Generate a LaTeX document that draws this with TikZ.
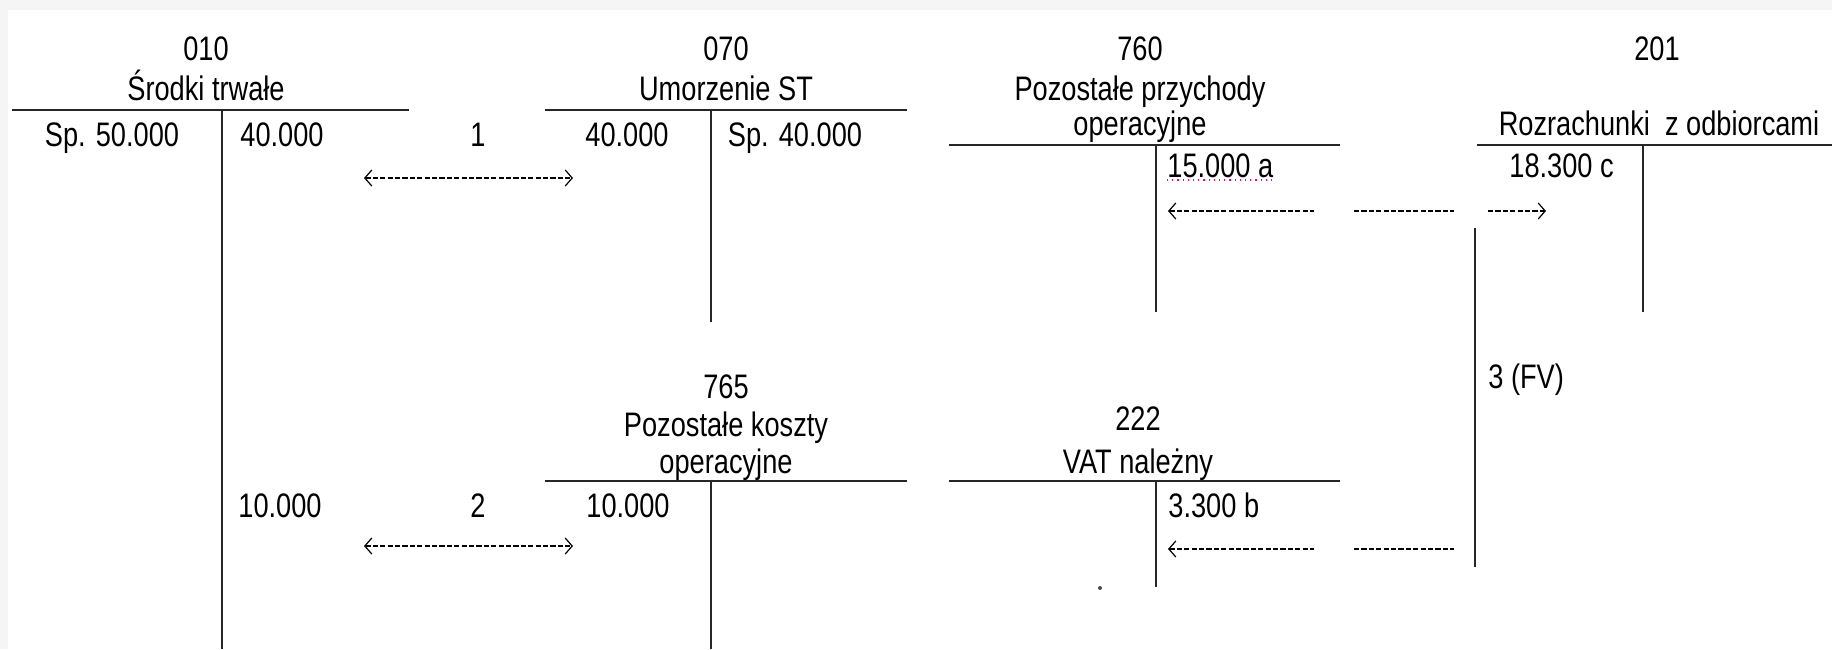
\documentclass[tikz,border=0pt]{standalone}
\usepackage{fontspec}
\setmainfont{Liberation Sans}[FakeStretch=0.8]
\usetikzlibrary{arrows.meta}

\begin{document}
\begin{tikzpicture}[x=0.5pt,y=-0.5pt]
	\tikzset{
		mylabel/.style={anchor=base, inner sep=0pt, font=\fontsize{17}{20}\selectfont},
		mylabelw/.style={mylabel, anchor=base west},
		myline/.style={draw=black!85, line width=1.3pt},
		mystem/.style={draw=black!85, line width=1pt},
		myarrow/.style={line width=0.85pt, dash pattern=on 2.6pt off 1.1pt},
		mytip/.tip={Straight Barb[length=3.5pt,width=8pt,line width=0.6pt]}
	}

	\fill[black!4] (0,0) rectangle (1832,649);
	\fill[white] (8,10) rectangle (1832,649);
	\useasboundingbox (0,0) rectangle (1832,649);

	% T-accounts: bar from \xa to \xb at \ya, stem at \xs down to \yb
	\foreach \xa/\xb/\ya/\xs/\yb in {12/409/110/222/649, 545/907/110/711/322, 949/1340/145/1156/312, 1477/1832/145/1643/312, 545/907/481/711/649, 949/1340/481/1156/587} {
		\draw[myline] (\xa,\ya) -- (\xb,\ya);
		\draw[mystem] (\xs,\ya) -- (\xs,\yb);
	}
	\draw[mystem] (1475,228) -- (1475,567);
	\fill[black!70] (1100,588) circle (1pt);

	% account headers
	\node[mylabel] (n010) at (206,60) {010};
	\node[mylabel] (t010) at (206,100) {Środki trwałe};
	\node[mylabel] (n070) at (726,60) {070};
	\node[mylabel] (t070) at (726,100) {Umorzenie ST};
	\node[mylabel] (n760) at (1140,60) {760};
	\node[mylabel] (t760a) at (1140,100) {Pozostałe przychody};
	\node[mylabel] (t760b) at (1140,135) {operacyjne};
	\node[mylabel] (n201) at (1657,60) {201};
	\node[mylabel] (t201) at (1659,135) {Rozrachunki\ \ z odbiorcami};
	\node[mylabel] (n765) at (726,398) {765};
	\node[mylabel] (t765a) at (726,436) {Pozostałe koszty};
	\node[mylabel] (t765b) at (726,473) {operacyjne};
	\node[mylabel] (n222) at (1138,430) {222};
	\node[mylabel] (t222) at (1138,473) {VAT należny};

	% amounts
	\node[mylabel] (sp010) at (112,146) {Sp. 50.000};
	\node[mylabel] (ma010) at (282,146) {40.000};
	\node[mylabel] (op1) at (478,146) {1};
	\node[mylabel] (wn070) at (627,146) {40.000};
	\node[mylabel] (sp070) at (795,146) {Sp. 40.000};
	\node[mylabelw] (ma760) at (1167,177) {15.000 a};
	\node[mylabelw] (wn201) at (1509,177) {18.300 c};
	\node[mylabelw] (op3) at (1488,388) {3 (FV)};
	\node[mylabel] (mb010) at (280,517) {10.000};
	\node[mylabel] (op2) at (478,517) {2};
	\node[mylabel] (wn765) at (628,517) {10.000};
	\node[mylabelw] (ma222) at (1168,517) {3.300 b};
	\draw[magenta, dotted, line width=0.6pt] (ma760.base west) ++(0,3) -- ++(105,0);

	% arrows
	\coordinate (a1l) at (364,178);
	\coordinate (a1r) at (573,178);
	\coordinate (a2l) at (364,546);
	\coordinate (a2r) at (573,546);
	\coordinate (a3l) at (1168,211);
	\coordinate (a3m) at (1314,211);
	\coordinate (a3n) at (1354,211);
	\coordinate (a3o) at (1454,211);
	\coordinate (a3p) at (1488,211);
	\coordinate (a3r) at (1546,211);
	\coordinate (a4l) at (1168,549);
	\coordinate (a4m) at (1314,549);
	\coordinate (a4n) at (1354,549);
	\coordinate (a4o) at (1454,549);

	\draw[myarrow, mytip-mytip] (a1l) -- (a1r);
	\draw[myarrow, mytip-mytip] (a2l) -- (a2r);
	\draw[myarrow, mytip-] (a3l) -- (a3m);
	\draw[myarrow] (a3n) -- (a3o);
	\draw[myarrow, -mytip] (a3p) -- (a3r);
	\draw[myarrow, mytip-] (a4l) -- (a4m);
	\draw[myarrow] (a4n) -- (a4o);
\end{tikzpicture}
\end{document}
